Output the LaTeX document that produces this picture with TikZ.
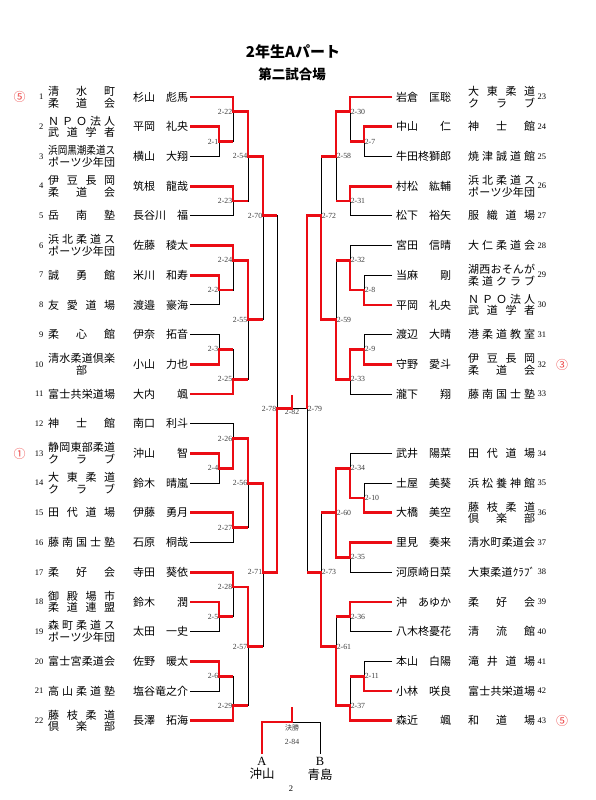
\documentclass[tikz,border=0pt]{standalone}
\usepackage{fontspec}
\setmainfont{Liberation Serif}
\newfontfamily\jp{Noto Sans CJK JP}
\usepackage{graphicx}
\usetikzlibrary{positioning}

\definecolor{winred}{RGB}{235,12,20}
\definecolor{rankred}{RGB}{236,70,70}
\definecolor{labgray}{RGB}{60,60,60}

\newlength\clubw
\setlength\clubw{67pt}
\def\sprgo#1{#1\sprnext}
\def\sprnext#1{\ifx#1\relax\else\hfill#1\expandafter\sprnext\fi}
\newcommand\spr[1]{\sbox0{#1}\ifdim\wd0>\clubw\resizebox{\clubw}{\height}{#1}\else\makebox[\clubw][s]{\sprgo#1\relax}\fi}
\newcommand\clubtext[2]{\edef\clA{#1}\edef\clB{#2}%
  \ifx\clB\empty\expandafter\spr\expandafter{\clA}%
  \else\vbox{\baselineskip=11.7pt\hbox{\expandafter\spr\expandafter{\clA}}\hbox{\expandafter\spr\expandafter{\clB}}}\fi}

\tikzset{
  lose/.style={line width=0.9pt, black},
  win/.style={line width=2.8pt, winred},
  mlab/.style={font=\fontsize{7.8}{8}\selectfont, text=labgray, inner sep=0.6pt},
  club/.style={font=\jp\fontsize{11}{11.7}\selectfont, inner sep=0pt, anchor=west},
  pname/.style={font=\jp\fontsize{11}{12}\selectfont, inner sep=0pt, anchor=west},
  rnum/.style={font=\fontsize{8.5}{9}\selectfont, inner sep=0pt},
  rank/.style={font=\jp\fontsize{12}{12}\selectfont, text=rankred, inner sep=0pt},
}

\begin{document}
\begin{tikzpicture}[x=1pt, y=-1pt]
    \useasboundingbox (0,0) rectangle (596,800);

    \node[font=\jp\bfseries\fontsize{15}{16}\selectfont] (title) at (293,52) {2年生Aパート};
    \node[font=\jp\bfseries\fontsize{13.5}{14}\selectfont] (court) at (292,74) {第二試合場};

    \foreach \n/\pl/\ca/\cb in {1/杉山　彪馬/清水町/柔道会, 2/平岡　礼央/ＮＰＯ法人/武道学者,
        3/横山　大翔/浜岡黒潮柔道ス/ポーツ少年団, 4/筑根　龍哉/伊豆長岡/柔道会, 5/長谷川　福/岳南塾/,
        6/佐藤　稜太/浜北柔道ス/ポーツ少年団, 7/米川　和寿/誠勇館/, 8/渡邉　豪海/友愛道場/,
        9/伊奈　拓音/柔心館/, 10/小山　力也/清水柔道倶楽/\hfill 部\hfill, 11/大内　　颯/富士共栄道場/,
        12/南口　利斗/神士館/, 13/沖山　　智/静岡東部柔道/クラブ, 14/鈴木　晴嵐/大東柔道/クラブ,
        15/伊藤　勇月/田代道場/, 16/石原　桐哉/藤南国士塾/, 17/寺田　葵依/柔好会/,
        18/鈴木　　潤/御殿場市/柔道連盟, 19/太田　一史/森町柔道ス/ポーツ少年団, 20/佐野　暖太/富士宮柔道会/,
        21/塩谷竜之介/高山柔道塾/, 22/長澤　拓海/藤枝柔道/倶楽部}{
        \pgfmathsetmacro\yy{97+29.7*(\n-1)}
        \node[rnum, anchor=east] (no\n) at (43.5,\yy) {\n};
        \node[club] (cl\n) at (48,\yy) {\clubtext{\ca}{\cb}};
        \node[pname] (pl\n) at (133,\yy) {\pl};
        \coordinate (L\n) at (190,\yy);
    }

    \foreach \n/\pl/\ca/\cb in {23/岩倉　匡聡/大東柔道/クラブ, 24/中山　　仁/神士館/, 25/牛田柊獅郎/焼津誠道館/,
        26/村松　紘輔/浜北柔道ス/ポーツ少年団, 27/松下　裕矢/服織道場/, 28/宮田　信晴/大仁柔道会/,
        29/当麻　　剛/湖西おそんが/柔道クラブ, 30/平岡　礼央/ＮＰＯ法人/武道学者, 31/渡辺　大晴/港柔道教室/,
        32/守野　愛斗/伊豆長岡/柔道会, 33/瀧下　　翔/藤南国士塾/, 34/武井　陽菜/田代道場/,
        35/土屋　美葵/浜松養神館/, 36/大橋　美空/藤枝柔道/倶楽部, 37/里見　奏来/清水町柔道会/,
        38/河原崎日菜/大東柔道ｸﾗﾌﾞ/, 39/沖　あゆか/柔好会/, 40/八木柊憂花/清流館/,
        41/本山　白陽/滝井道場/, 42/小林　咲良/富士共栄道場/, 43/森近　　颯/和道場/}{
        \pgfmathsetmacro\ss{\n<34 ? \n-23 : \n-22}
        \pgfmathsetmacro\yy{97+29.7*\ss}
        \node[rnum, anchor=west] (no\n) at (537.5,\yy) {\n};
        \node[club] (cl\n) at (468,\yy) {\clubtext{\ca}{\cb}};
        \node[pname] (pl\n) at (396,\yy) {\pl};
        \coordinate (R\n) at (392,\yy);
    }

    \node[rank] (rk1) at (19.5,97) {⑤};
    \node[rank] (rk13) at (19.5,454) {①};
    \node[rank] (rk32) at (562,364.5) {③};
    \node[rank] (rk43) at (562,721) {⑤};

    \foreach \m/\x/\s in {1/219/1.5, 22/233/0.5, 23/233/3.5, 54/248/2, 2/219/6.5, 24/233/5.5, 3/219/8.5,
        25/233/9.5, 55/248/7.5, 70/263/4, 4/219/12.5, 26/233/11.5, 27/233/14.5, 56/248/13, 5/219/17.5,
        28/233/16.5, 6/219/19.5, 29/233/20.5, 57/248/18.5, 71/263/16, 78/277/10.5}{
        \coordinate (m\m) at (\x,{97+29.7*\s});
        \node[mlab, anchor=east] (t\m) at (m\m) {2-\m};
    }
    \foreach \m/\x/\s in {7/364/1.5, 30/350/0.5, 31/350/3.5, 58/336/2, 8/364/6.5, 32/350/5.5, 9/364/8.5,
        33/350/9.5, 59/336/7.5, 72/321/4, 10/364/13.5, 34/350/12.5, 35/350/15.5, 60/336/14, 36/350/17.5,
        11/364/19.5, 37/350/20.5, 61/336/18.5, 73/321/16, 79/307/10.5}{
        \coordinate (m\m) at (\x,{97+29.7*\s});
        \node[mlab, anchor=west] (t\m) at (m\m) {2-\m};
    }
    \coordinate (m82) at (292,{97+29.7*10.5});
    \coordinate (m82t) at (292,395);
    \node[mlab, anchor=north] (t82) at (m82) {2-82};

    \foreach \m/\a/\b in {m1/L2/L3, m22/L1/m1, m23/L4/L5, m54/m22/m23, m2/L7/L8, m24/L6/m2, m3/L9/L10,
        m25/m3/L11, m55/m24/m25, m70/m54/m55, m4/L13/L14, m26/L12/m4, m27/L15/L16, m56/m26/m27,
        m5/L18/L19, m28/L17/m5, m6/L20/L21, m29/m6/L22, m57/m28/m29, m71/m56/m57, m78/m70/m71,
        m7/R24/R25, m30/R23/m7, m31/R26/R27, m58/m30/m31, m8/R29/R30, m32/R28/m8, m9/R31/R32,
        m33/m9/R33, m59/m32/m33, m72/m58/m59, m10/R35/R36, m34/R34/m10, m35/R37/R38, m60/m34/m35,
        m36/R39/R40, m11/R41/R42, m37/m11/R43, m61/m36/m37, m73/m60/m61, m79/m72/m73}
        \draw[lose] (\a) -| (\m) (\b) -| (\m);
    \draw[lose] (m78) -- (m79);

    \draw[win] (L1) -| (m22) -| (m54) -| (m70) -- (m70 -| m78);
    \draw[win] (L2) -| (m1) -- (m1 -| m22);
    \draw[win] (L4) -| (m23) -- (m23 -| m54);
    \draw[win] (L6) -| (m24) -| (m55) -- (m55 -| m70);
    \draw[win] (L7) -| (m2) -- (m2 -| m24);
    \draw[win] (L10) -| (m3) -- (m3 -| m25);
    \draw[win] (L11) -| (m25) -- (m25 -| m55);
    \draw[win] (L13) -| (m4) -| (m26) -| (m56) -| (m71) -| (m78) -- (m82) -- (m82t);
    \draw[win] (L15) -| (m27) -- (m27 -| m56);
    \draw[win] (L17) -| (m28) -| (m57) -- (m57 -| m71);
    \draw[win] (L18) -| (m5) -- (m5 -| m28);
    \draw[win] (L20) -| (m6) -- (m6 -| m29);
    \draw[win] (L22) -| (m29) -- (m29 -| m57);

    \draw[win] (R23) -| (m30) -| (m58) -- (m58 -| m72);
    \draw[win] (R24) -| (m7) -- (m7 -| m30);
    \draw[win] (R26) -| (m31) -- (m31 -| m58);
    \draw[win] (R30) -| (m8) -| (m32) -- (m32 -| m59);
    \draw[win] (R32) -| (m9) -| (m33) -| (m59) -| (m72) -| (m79);
    \draw[win] (R36) -| (m10) -| (m34) -| (m60);
    \draw[win] (R37) -| (m35) -| (m60) -- (m60 -| m73);
    \draw[win] (R39) -| (m36) -- (m36 -| m61);
    \draw[win] (R42) -| (m11) -- (m11 -| m37);
    \draw[win] (R43) -| (m37) -| (m61) -| (m73) -- (m73 -| m79);

    \coordinate (fin) at (292,722);
    \coordinate (finT) at (292,707);
    \node[font=\fontsize{12.5}{13}\selectfont, inner sep=3pt] (fA) at (262,761) {A};
    \node[font=\jp\fontsize{12.5}{13}\selectfont, inner sep=0pt, below=0pt of fA] (fAn) {沖山};
    \node[font=\fontsize{12.5}{13}\selectfont, inner sep=3pt] (fB) at (320,761) {B};
    \node[font=\jp\fontsize{12.5}{13}\selectfont, inner sep=0pt, below=0pt of fB] (fBn) {青島};
    \draw[lose] (fA.north) |- (fin) (fB.north) |- (fin);
    \draw[win] (fA.north) |- (fin) -- (finT);
    \node[mlab, font=\jp\fontsize{7}{8}\selectfont] (kessho) at (292,728) {決勝};
    \node[mlab] (t84) at (292,742) {2-84};
    \node[rnum] (page) at (291,789) {2};
\end{tikzpicture}
\end{document}
